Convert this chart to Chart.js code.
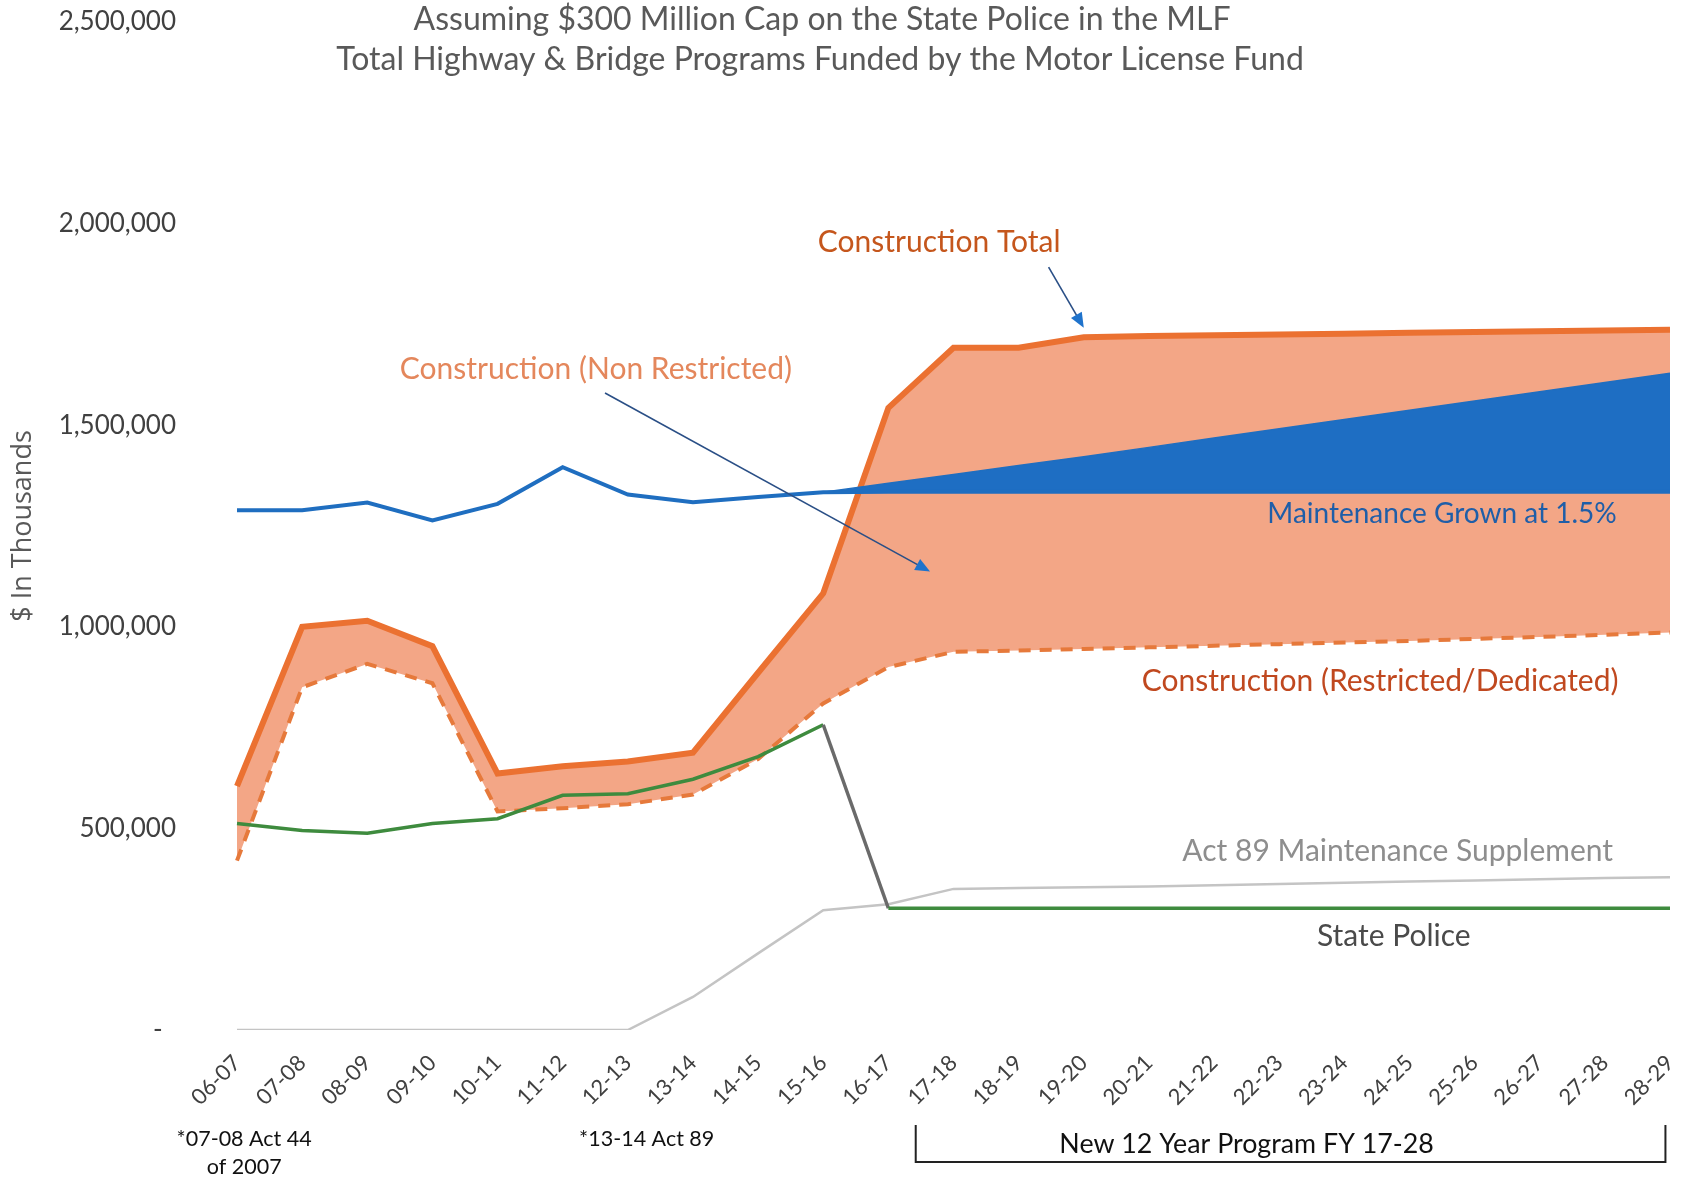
<!DOCTYPE html>
<html>
<head>
<meta charset="utf-8">
<script src="https://cdn.jsdelivr.net/npm/chart.js@4.4.0/dist/chart.umd.min.js"></script>
<style>
  body { margin: 0; background: #fff; }
  #wrap { width: 1687px; height: 1180px; }
</style>
</head>
<body>
<div id="wrap"><canvas id="chart" width="1687" height="1180"></canvas></div>
<script>
const categories = ['06-07', '07-08', '08-09', '09-10', '10-11', '11-12', '12-13', '13-14', '14-15', '15-16',
    '16-17', '17-18', '18-19', '19-20', '20-21', '21-22', '22-23', '23-24', '24-25', '25-26', '26-27', '27-28', '28-29'];

const constructionTotal = [605000, 1000000, 1015000, 952000, 636000, 654000, 666000, 688000, 886000, 1083000,
    1543000, 1692000, 1692000, 1718000, 1721000, 1723000, 1725000, 1727000, 1729000, 1731000, 1733000, 1735000, 1737000];

const constructionRestricted = [420000, 850000, 908000, 860000, 542000, 550000, 560000, 584000, 672000, 810000,
    900000, 938000, 941000, 945000, 949000, 953000, 957000, 961000, 965000, 970000, 975000, 980000, 986000];

const maintenance = [1289000, 1289000, 1308000, 1264000, 1305000, 1396000, 1328000, 1309000, 1322000, 1334000,
    1335000, 1335000, 1335000, 1335000, 1335000, 1335000, 1335000, 1335000, 1335000, 1335000, 1335000, 1335000, 1335000];

const maintenanceGrown = [null, null, null, null, null, null, null, null, null, 1334000,
    1356000, 1378000, 1400000, 1422000, 1445000, 1468000, 1491000, 1514000, 1537000, 1560000, 1583000, 1606000, 1629000];

const statePolice = [512000, 495000, 488000, 512000, 524000, 582000, 586000, 622000, 678000, 757000,
    302000, 302000, 302000, 302000, 302000, 302000, 302000, 302000, 302000, 302000, 302000, 302000, 302000];

const act89Supplement = [0, 0, 0, 0, 0, 0, 0, 82000, 190000, 297000,
    312000, 350000, 352000, 354000, 356000, 359000, 362000, 365000, 368000, 371000, 374000, 377000, 379000];

const yTicks = [0, 500000, 1000000, 1500000, 2000000, 2500000];

Chart.defaults.font.family = 'Lato';

// labels placed in data space: [category index, value]
const chartNotes = [
    { text: 'Construction Total', at: [10.78, 1954000], color: '#C5561C', size: 30 },
    { text: 'Construction (Non Restricted)', at: [5.51, 1639000], color: '#E4875C', size: 30 },
    { text: 'Maintenance Grown at 1.5%', at: [18.5, 1280000], color: '#1F5EA8', size: 28 },
    { text: 'Construction (Restricted/Dedicated)', at: [17.55, 866000], color: '#C0481F', size: 30 },
    { text: 'Act 89 Maintenance Supplement', at: [17.82, 444000], color: '#8E8E8E', size: 30 },
    { text: 'State Police', at: [17.76, 233000], color: '#4A4A4A', size: 30 }
];

const chartArrows = [
    { from: [12.46, 1892000], to: [13.0, 1742000] },
    { from: [5.65, 1580000], to: [10.64, 1137000] }
];

function drawArrow(ctx, x1, y1, x2, y2) {
    const ang = Math.atan2(y2 - y1, x2 - x1);
    const head = 16;
    ctx.save();
    ctx.strokeStyle = '#2A4F86';
    ctx.lineWidth = 1.6;
    ctx.beginPath();
    ctx.moveTo(x1, y1);
    ctx.lineTo(x2 - Math.cos(ang) * head * 0.8, y2 - Math.sin(ang) * head * 0.8);
    ctx.stroke();
    ctx.fillStyle = '#1F73CC';
    ctx.beginPath();
    ctx.moveTo(x2, y2);
    ctx.lineTo(x2 - head * Math.cos(ang - 0.4), y2 - head * Math.sin(ang - 0.4));
    ctx.lineTo(x2 - head * Math.cos(ang + 0.4), y2 - head * Math.sin(ang + 0.4));
    ctx.closePath();
    ctx.fill();
    ctx.restore();
}

const notesPlugin = {
    id: 'notes',
    afterDatasetsDraw(chart) {
        const { ctx, scales: { x, y } } = chart;
        ctx.save();
        ctx.textAlign = 'center';
        ctx.textBaseline = 'middle';
        chartNotes.forEach(n => {
            ctx.font = n.size + 'px Lato';
            ctx.fillStyle = n.color;
            ctx.fillText(n.text, x.getPixelForValue(n.at[0]), y.getPixelForValue(n.at[1]));
        });
        chartArrows.forEach(a => {
            drawArrow(ctx,
                x.getPixelForValue(a.from[0]), y.getPixelForValue(a.from[1]),
                x.getPixelForValue(a.to[0]), y.getPixelForValue(a.to[1]));
        });
        ctx.restore();
    },
    afterDraw(chart) {
        const { ctx, scales: { x } } = chart;
        ctx.save();
        ctx.textAlign = 'center';
        ctx.textBaseline = 'middle';

        // titles
        ctx.fillStyle = '#595959';
        ctx.font = '32px Lato';
        ctx.fillText('Assuming $300 Million Cap on the State Police in the MLF', 822, 20);
        ctx.fillText('Total Highway & Bridge Programs Funded by the Motor License Fund', 820, 60);

        // notes under the axis
        ctx.fillStyle = '#111';
        ctx.font = '21.5px Lato';
        ctx.fillText('*07-08 Act 44', x.getPixelForValue(0.11), 1139);
        ctx.fillText('of 2007', x.getPixelForValue(0.11), 1167);
        ctx.fillText('*13-14 Act 89', x.getPixelForValue(6.29), 1139);

        const bl = x.getPixelForValue(10.42);
        const br = x.getPixelForValue(21.93);
        ctx.strokeStyle = '#222';
        ctx.lineWidth = 2;
        ctx.beginPath();
        ctx.moveTo(bl, 1125);
        ctx.lineTo(bl, 1162);
        ctx.lineTo(br, 1162);
        ctx.lineTo(br, 1125);
        ctx.stroke();
        ctx.font = '26.8px Lato';
        ctx.fillText('New 12 Year Program FY 17-28', x.getPixelForValue(15.5), 1144);
        ctx.restore();
    }
};

const datasets = [
    {
        label: 'Construction (Restricted/Dedicated)',
        data: constructionRestricted,
        borderColor: '#E6793B',
        borderWidth: 4,
        borderDash: [12, 9],
        fill: false,
        order: 8
    },
    {
        label: 'Construction Total',
        data: constructionTotal,
        borderColor: '#EB7131',
        borderWidth: 6,
        fill: { target: 0, above: '#F3A686', below: '#F3A686' },
        order: 9
    },
    {
        label: 'Maintenance',
        data: maintenance,
        borderColor: '#1F6EC0',
        borderWidth: 4,
        fill: false,
        order: 6
    },
    {
        label: 'Maintenance Grown at 1.5%',
        data: maintenanceGrown,
        borderColor: '#1F6EC0',
        borderWidth: 1.5,
        fill: { target: 2, above: '#1E6EC3', below: '#1E6EC3' },
        order: 7
    },
    {
        label: 'Act 89 Maintenance Supplement',
        data: act89Supplement,
        borderColor: '#C4C4C4',
        borderWidth: 2.5,
        fill: false,
        order: 5
    },
    {
        label: 'State Police',
        data: statePolice,
        borderColor: '#3E8B3E',
        borderWidth: 3.5,
        segment: {
            borderColor: c => c.p0DataIndex === 9 ? '#6A6A6A' : undefined
        },
        fill: false,
        order: 4
    }
];

new Chart(document.getElementById('chart'), {
    type: 'line',
    data: { labels: categories, datasets },
    options: {
        responsive: false,
        animation: false,
        events: [],
        layout: { padding: { top: 22, right: 17, left: 0, bottom: 0 } },
        elements: { point: { radius: 0 }, line: { tension: 0, borderJoinStyle: 'miter' } },
        plugins: { legend: { display: false }, tooltip: { enabled: false } },
        scales: {
            x: {
                offset: false,
                grid: { display: false, drawTicks: false },
                border: { display: false },
                ticks: {
                    autoSkip: false, minRotation: 45, maxRotation: 45, padding: 20,
                    color: '#404040', font: { size: 22 }
                },
                afterFit: s => {
                    s.height = 150;
                    s.paddingLeft = 0;
                    s.paddingRight = 0;
                }
            },
            y: {
                min: 0,
                max: 2500000,
                afterBuildTicks: s => { s.ticks = yTicks.map(v => ({ value: v })); },
                grid: { display: false, drawTicks: false },
                border: { display: false },
                ticks: {
                    padding: 61, color: '#404040', font: { size: 26 },
                    callback: v => v === 0 ? '-  ' : v.toLocaleString('en-US')
                },
                title: {
                    display: true, text: '$ In Thousands', color: '#595959',
                    font: { family: 'Open Sans', size: 27 }, padding: { top: 7, bottom: 0 }
                },
                afterFit: s => {
                    s.width = 237;
                    s.paddingTop = 10;
                    s.paddingBottom = 10;
                }
            }
        }
    },
    plugins: [notesPlugin]
});
</script>
</body>
</html>
